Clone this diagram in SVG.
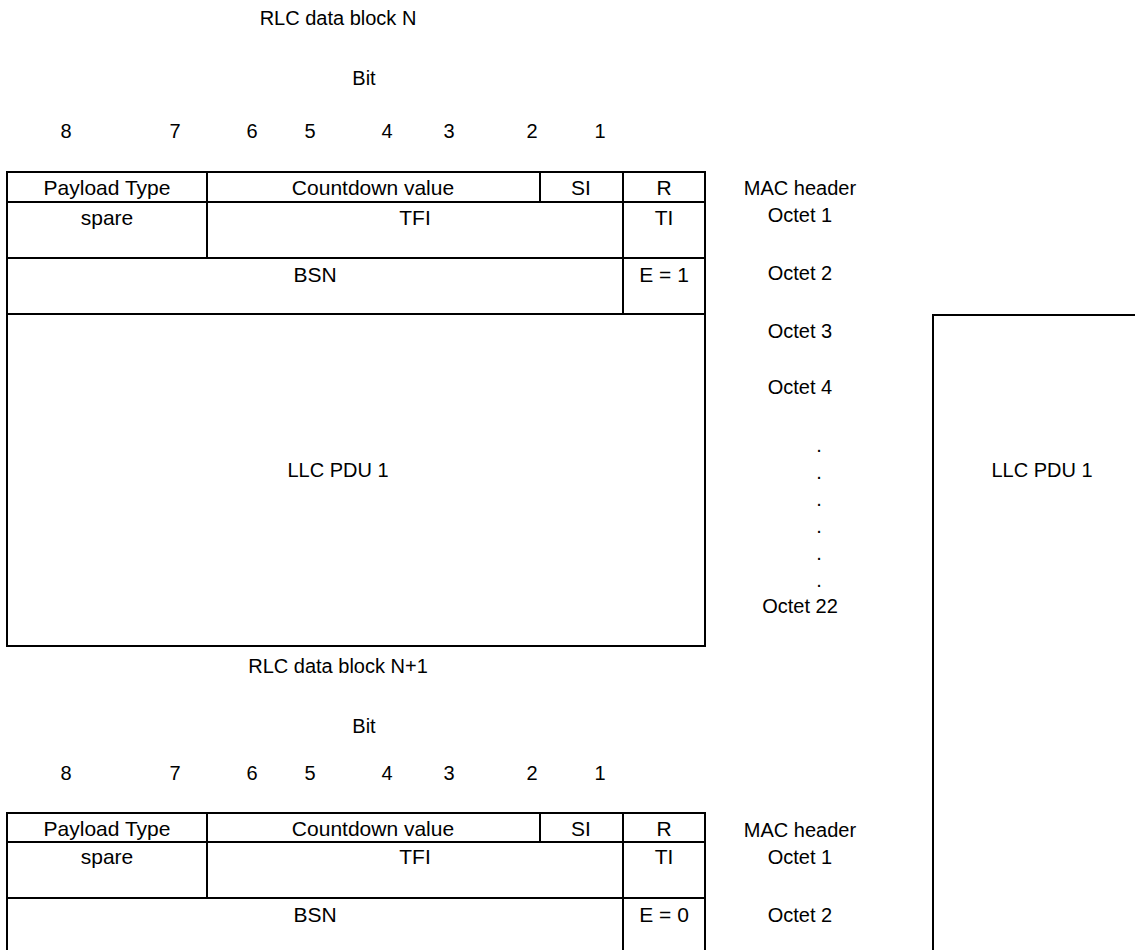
<svg xmlns="http://www.w3.org/2000/svg" width="1135" height="950" viewBox="0 0 1135 950">
<style>
text{font-family:"Liberation Sans",Arial,sans-serif;font-size:20px;fill:#000;text-anchor:middle}
.c{font-size:21px}
.l{fill:none;stroke:#000;stroke-width:2}
</style>
<rect width="1135" height="950" fill="#fff"/>
<g id="blockN">
<text x="338" y="25">RLC data block N</text>
<text x="364" y="85">Bit</text>
<text x="66" y="138">8</text><text x="175" y="138">7</text><text x="252" y="138">6</text><text x="310" y="138">5</text><text x="387" y="138">4</text><text x="449" y="138">3</text><text x="532" y="138">2</text><text x="600" y="138">1</text>
<path class="l" d="M7,172H705V646H7Z M7,202H705 M7,258H705 M7,314H705 M207,172V258 M540,172V202 M623,172V314"/>
<text class="c" x="107" y="195">Payload Type</text>
<text class="c" x="373" y="195">Countdown value</text>
<text class="c" x="581" y="195">SI</text>
<text class="c" x="664" y="195">R</text>
<text class="c" x="107" y="225">spare</text>
<text class="c" x="415" y="225">TFI</text>
<text class="c" x="664" y="225">TI</text>
<text class="c" x="315" y="282">BSN</text>
<text class="c" x="664" y="282">E = 1</text>
<text x="338" y="477">LLC PDU 1</text>
<text x="800" y="195">MAC header</text>
<text x="800" y="222">Octet 1</text>
<text x="800" y="280">Octet 2</text>
<text x="800" y="338">Octet 3</text>
<text x="800" y="394">Octet 4</text>
<text x="819" y="452">.</text><text x="819" y="479">.</text><text x="819" y="506">.</text><text x="819" y="533">.</text><text x="819" y="560">.</text><text x="819" y="587">.</text>
<text x="800" y="613">Octet 22</text>
</g>
<g id="llcpdu">
<path class="l" d="M1136,315H933V951"/>
<text x="1042" y="477">LLC PDU 1</text>
</g>
<g id="blockN1">
<text x="338" y="673">RLC data block N+1</text>
<text x="364" y="733">Bit</text>
<text x="66" y="780">8</text><text x="175" y="780">7</text><text x="252" y="780">6</text><text x="310" y="780">5</text><text x="387" y="780">4</text><text x="449" y="780">3</text><text x="532" y="780">2</text><text x="600" y="780">1</text>
<path class="l" d="M7,951V813H705V951 M7,842H705 M7,898H705 M207,813V898 M540,813V842 M623,813V951"/>
<text class="c" x="107" y="836">Payload Type</text>
<text class="c" x="373" y="836">Countdown value</text>
<text class="c" x="581" y="836">SI</text>
<text class="c" x="664" y="836">R</text>
<text class="c" x="107" y="864">spare</text>
<text class="c" x="415" y="864">TFI</text>
<text class="c" x="664" y="864">TI</text>
<text class="c" x="315" y="922">BSN</text>
<text class="c" x="664" y="922">E = 0</text>
<text x="800" y="837">MAC header</text>
<text x="800" y="864">Octet 1</text>
<text x="800" y="922">Octet 2</text>
</g>
</svg>
